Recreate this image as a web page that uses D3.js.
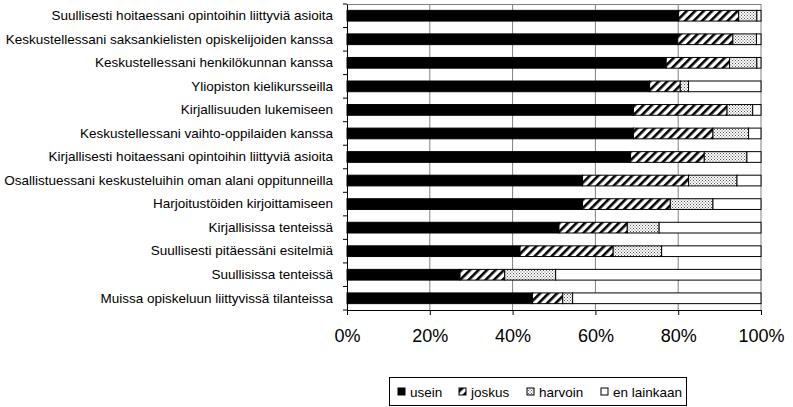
<!DOCTYPE html>
<html><head><meta charset="utf-8">
<script src="https://cdn.jsdelivr.net/npm/d3@7"></script>
<style>body{margin:0;background:#fff}svg{display:block}text{font-family:"Liberation Sans",Arial,sans-serif;fill:#000}</style>
</head><body><svg id="c" width="793" height="407"></svg>
<script>
const categories = [
  "Suullisesti hoitaessani opintoihin liittyviä asioita",
  "Keskustellessani saksankielisten opiskelijoiden kanssa",
  "Keskustellessani henkilökunnan kanssa",
  "Yliopiston kielikursseilla",
  "Kirjallisuuden lukemiseen",
  "Keskustellessani vaihto-oppilaiden kanssa",
  "Kirjallisesti hoitaessani opintoihin liittyviä asioita",
  "Osallistuessani keskusteluihin oman alani oppitunneilla",
  "Harjoitustöiden kirjoittamiseen",
  "Kirjallisissa tenteissä",
  "Suullisesti pitäessäni esitelmiä",
  "Suullisissa tenteissä",
  "Muissa opiskeluun liittyvissä tilanteissa"
];
const seriesNames = ["usein", "joskus", "harvoin", "en lainkaan"];
const usein      = [80.1, 79.9, 77.1, 73.1, 69.2, 69.2, 68.5, 56.9, 56.9, 51.2, 41.8, 27.3, 44.8];
const joskus     = [14.5, 13.3, 15.3,  7.4, 22.6, 19.2, 17.8, 25.6, 21.2, 16.5, 22.5, 10.8,  7.3];
const harvoin    = [ 4.4,  5.7,  6.6,  2.0,  6.2,  8.6, 10.3, 11.7, 10.3,  7.7, 11.7, 12.3,  2.4];
const enLainkaan = [ 1.0,  1.1,  1.0, 17.5,  2.0,  3.0,  3.4,  5.8, 11.6, 24.6, 24.0, 49.6, 45.5];
const tickValues = [0, 20, 40, 60, 80, 100];

const svg = d3.select("#c");
const m = {l: 347, r: 761, t: 4, b: 310};

const defs = svg.append("defs");
const hatch = defs.append("pattern").attr("id","hatch").attr("patternUnits","userSpaceOnUse")
  .attr("width",6).attr("height",6).attr("patternTransform","rotate(45)");
hatch.append("rect").attr("width",6).attr("height",6).attr("fill","#fff");
hatch.append("rect").attr("x",0).attr("width",2.6).attr("height",6).attr("fill","#000");
const dots = defs.append("pattern").attr("id","dots").attr("patternUnits","userSpaceOnUse")
  .attr("width",3).attr("height",3);
dots.append("rect").attr("width",3).attr("height",3).attr("fill","#fff");
dots.append("rect").attr("x",0).attr("y",0).attr("width",1).attr("height",1).attr("fill","#555");
dots.append("rect").attr("x",1.5).attr("y",1.5).attr("width",1).attr("height",1).attr("fill","#555");

const fills = ["#000", "url(#hatch)", "url(#dots)", "#fff"];

const x = d3.scaleLinear().domain([0,100]).range([m.l, m.r]);
const y = d3.scaleBand().domain(categories).range([m.t, m.b]).paddingInner(0.545).paddingOuter(0.27);
const yOuter = d3.scaleBand().domain(categories).range([m.t, m.b]);

// gridlines
svg.append("g").selectAll("line").data(tickValues.slice(1)).join("line")
  .attr("x1", d => x(d)).attr("x2", d => x(d)).attr("y1", m.t).attr("y2", m.b)
  .attr("stroke","#808080").attr("stroke-width",1);
svg.append("line").attr("x1",m.l).attr("x2",m.r).attr("y1",m.t+0.5).attr("y2",m.t+0.5)
  .attr("stroke","#808080");

// stacked data
const rows = categories.map((c,i) => ({cat:c, usein:usein[i], joskus:joskus[i], harvoin:harvoin[i], "en lainkaan":enLainkaan[i]}));
const stack = d3.stack().keys(seriesNames)(rows);

svg.append("g").selectAll("g").data(stack).join("g")
  .attr("fill", (d,i) => fills[i])
  .selectAll("rect").data(d => d).join("rect")
  .attr("x", d => x(d[0])).attr("width", d => x(d[1]) - x(d[0]))
  .attr("y", d => y(d.data.cat)).attr("height", y.bandwidth())
  .attr("stroke","#000").attr("stroke-width",1);

// axes
const yAxis = d3.axisLeft(yOuter).tickSize(0).tickPadding(14);
const gy = svg.append("g").attr("transform",`translate(${m.l},0)`).call(yAxis);
gy.select(".domain").attr("stroke","#000");
gy.selectAll("text").attr("font-size","13.5px");
// boundary ticks
svg.append("g").selectAll("line").data(d3.range(categories.length+1)).join("line")
  .attr("x1", m.l-4).attr("x2", m.l)
  .attr("y1", i => m.t + i*yOuter.step()).attr("y2", i => m.t + i*yOuter.step())
  .attr("stroke","#000");

const xAxis = d3.axisBottom(x).tickValues(tickValues).tickFormat(d => d + "%").tickSize(5).tickPadding(14);
const gx = svg.append("g").attr("transform",`translate(0,${m.b})`).call(xAxis);
gx.select(".domain").attr("stroke","#000");
gx.selectAll(".tick line").attr("stroke","#000");
gx.selectAll("text").attr("font-size","18px");

// legend
const lg = svg.append("g");
lg.append("rect").attr("x",389.5).attr("y",377.5).attr("width",297).attr("height",28)
  .attr("fill","#fff").attr("stroke","#000");
const legX = [398, 459, 527, 601];
seriesNames.forEach((s,i) => {
  lg.append("rect").attr("x",legX[i]).attr("y",388).attr("width",7).attr("height",7)
    .attr("fill", i===1 ? "url(#hatch)" : i===2 ? "url(#dots)" : fills[i]).attr("stroke","#000");
  lg.append("text").attr("x",legX[i]+12).attr("y",396.5).attr("font-size","13.5px").text(s);
});
</script></body></html>
